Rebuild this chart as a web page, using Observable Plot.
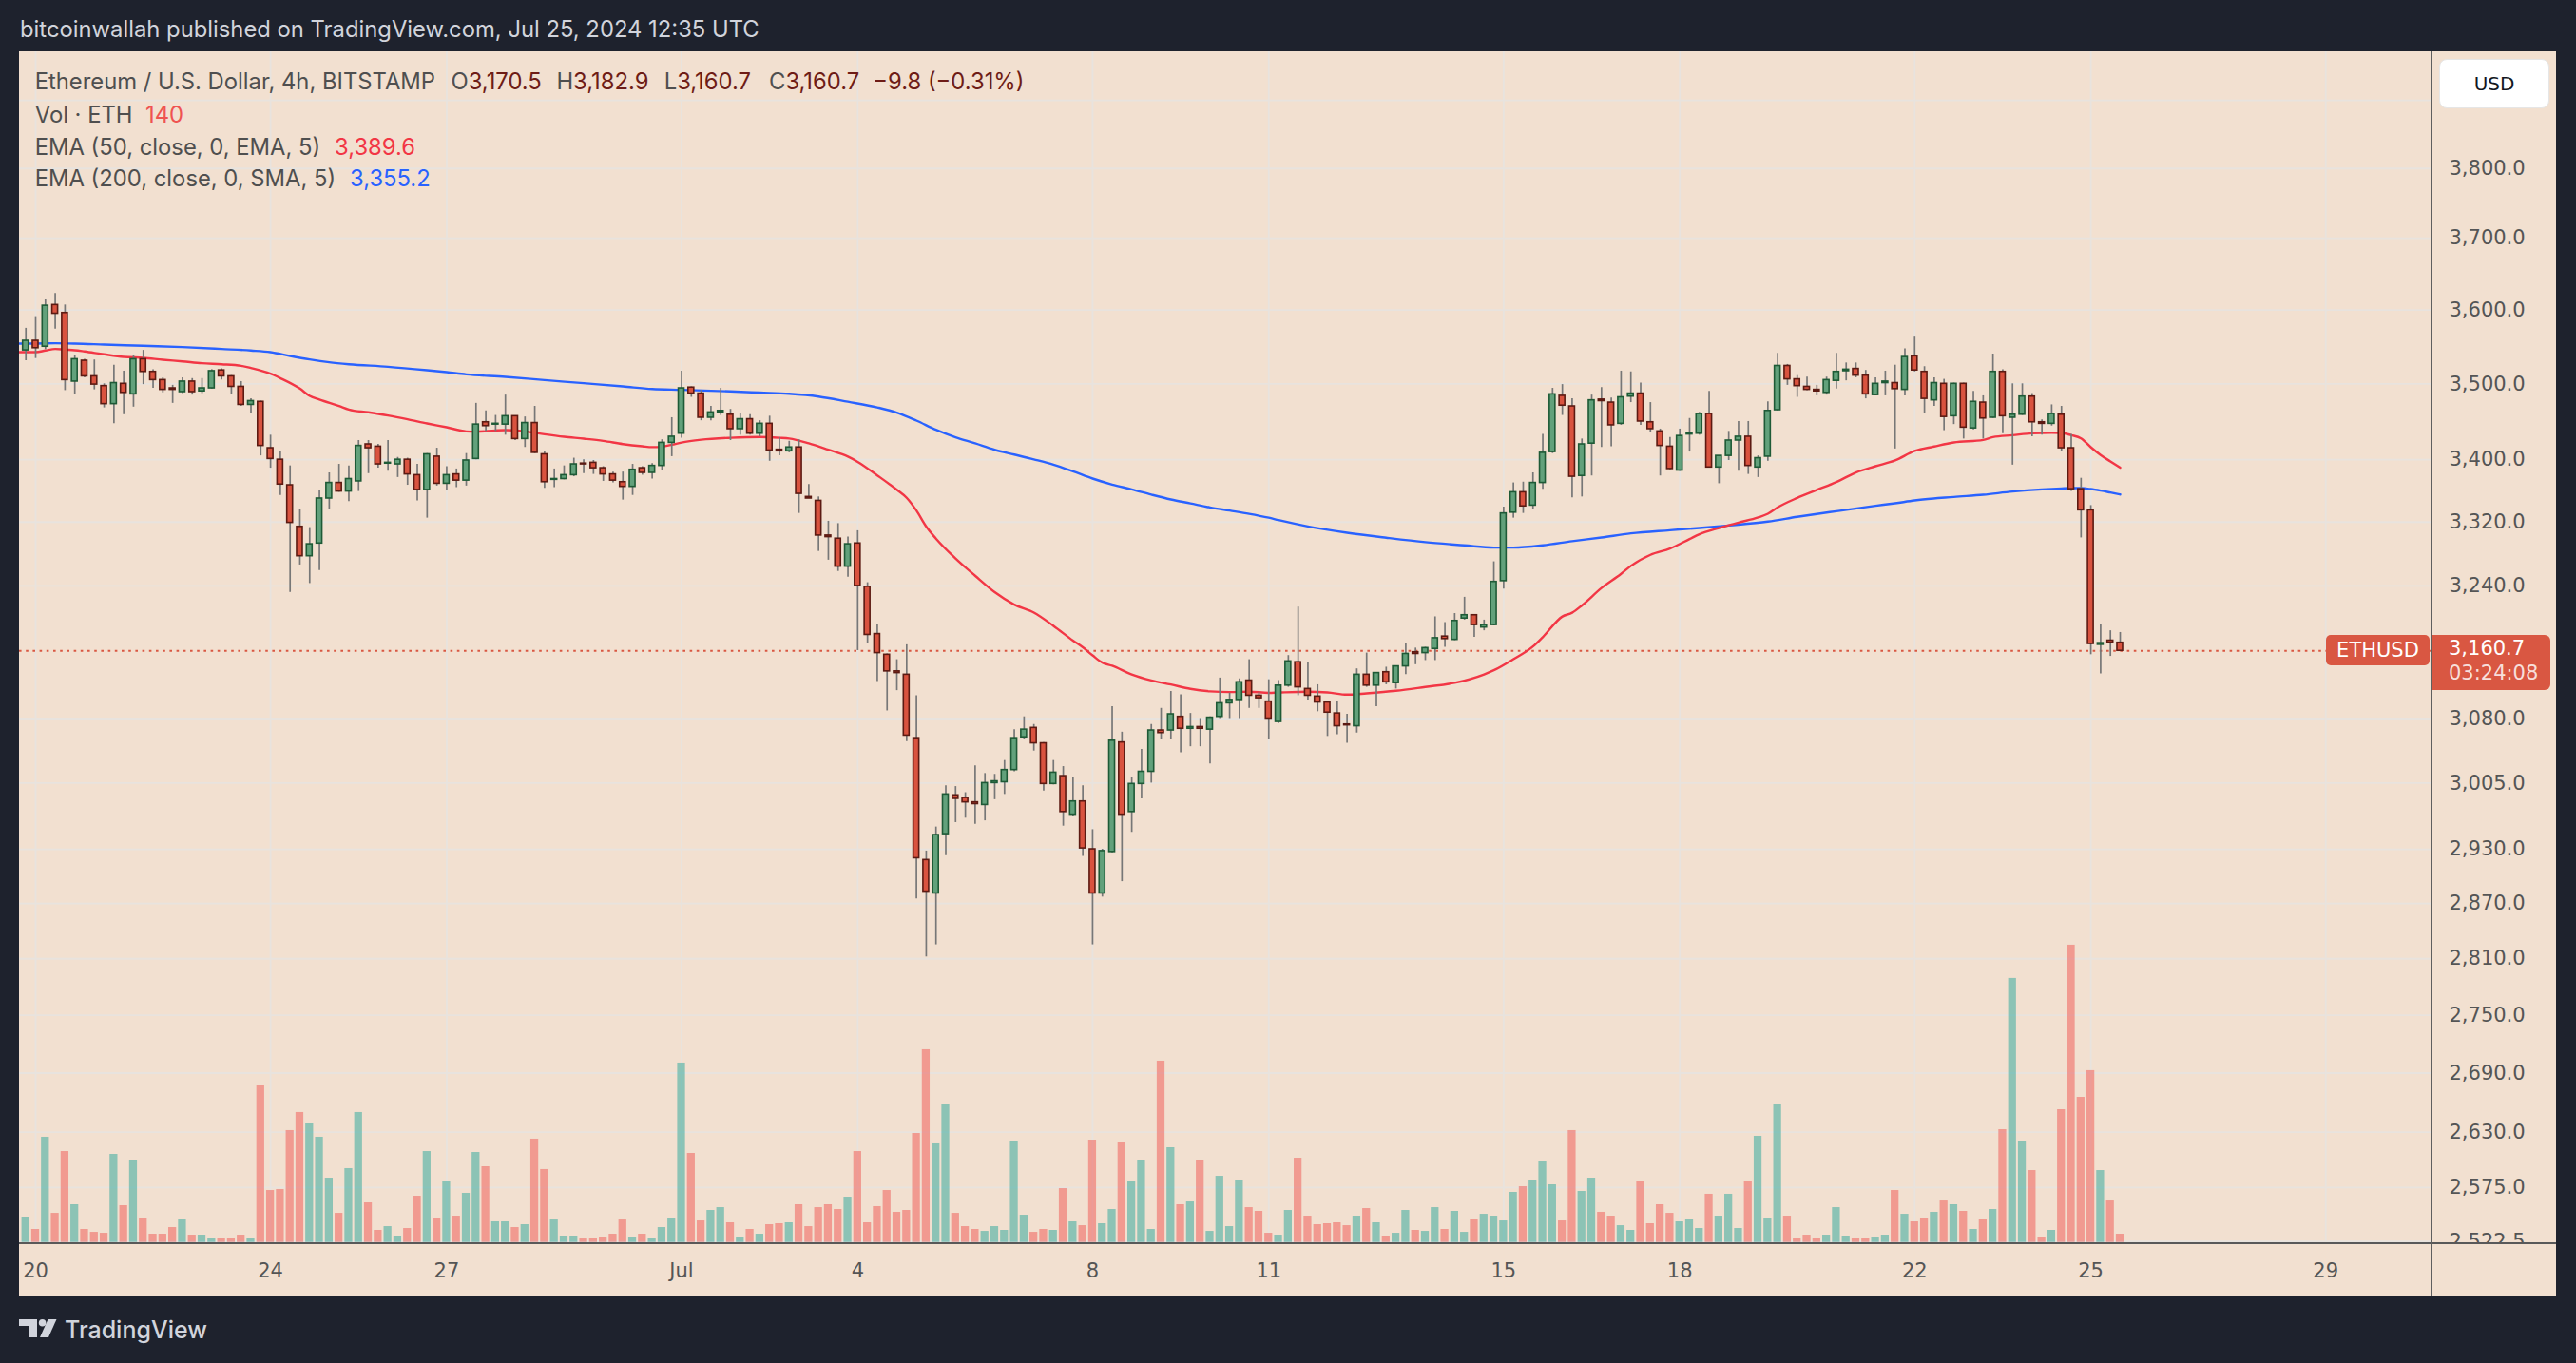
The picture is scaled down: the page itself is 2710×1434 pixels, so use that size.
<!DOCTYPE html>
<html>
<head>
<meta charset="utf-8">
<script src="https://cdn.jsdelivr.net/npm/d3@7"></script>
<script src="https://cdn.jsdelivr.net/npm/@observablehq/plot@0.6"></script>
<style>
  html, body { margin:0; padding:0; width:2710px; height:1434px; background:#1e222d; overflow:hidden; }
  #header { position:absolute; left:21px; top:16px; line-height:30px; font-family:Inter, sans-serif; font-size:23.8px; color:#d1d4dc; white-space:nowrap; }
  #panel { position:absolute; left:20px; top:54px; width:2669px; height:1309px; background:#f2e0d0; overflow:hidden; }
  .layer { position:absolute; left:0; }
  .layer svg { display:block; }
  .leg { position:absolute; font-family:Inter, sans-serif; font-size:23.8px; line-height:30px; white-space:nowrap; color:#4f4f4f; }
  #hsep { position:absolute; left:0; top:1253px; width:2669px; height:2px; background:#595959; }
  #vsep { position:absolute; left:2537px; top:0; width:1.6px; height:1309px; background:#5f5f5f; }
  #usd { position:absolute; left:2546px; top:8px; width:116px; height:52px; background:#ffffff; border-radius:8px; box-sizing:border-box; border:1px solid #e6e6e6;
         font-family:"DejaVu Sans", sans-serif; font-size:20px; color:#131722; text-align:center; line-height:50px; }
  #ethusd { position:absolute; left:2427px; top:614px; width:109px; height:32px; background:#d95742; border-radius:5px;
            font-family:"DejaVu Sans", sans-serif; font-size:21px; color:#fff; text-align:center; line-height:32px; }
  #plabel { position:absolute; left:2538px; top:614px; width:125px; height:58px; background:#d95742; border-radius:0 6px 6px 0; box-sizing:border-box;
            padding:1px 0 0 18px; font-family:"DejaVu Sans", sans-serif; font-size:21px; line-height:26px; color:#fff; }
  #plabel .t2 { color:rgba(255,255,255,0.82); }
  #logo { position:absolute; left:20px; top:1386px; height:28px; }
  #logo svg { position:absolute; left:0; top:2px; }
  #logo span { position:absolute; left:48px; top:-2px; font-family:Inter, sans-serif; font-weight:500; font-size:25px; line-height:30px; color:#d1d4dc; white-space:nowrap; }
</style>
</head>
<body>
<div id="header">bitcoinwallah published on TradingView.com, Jul 25, 2024 12:35 UTC</div>
<div id="panel">
  <div id="price" class="layer" style="top:0"></div>
  <div id="vol" class="layer" style="top:0"></div>
  <div id="xaxis" class="layer" style="top:1255px"></div>
  <div id="hsep"></div>
  <div id="vsep"></div>
  <div id="legend"></div>
  <div id="usd">USD</div>
  <div id="ethusd">ETHUSD</div>
  <div id="plabel"></div>
</div>
<div id="logo">
  <svg width="40" height="20" viewBox="0 0 40 20">
    <rect x="0" y="0" width="19" height="7" fill="#d1d4dc"/>
    <rect x="10.5" y="0" width="8.5" height="19" fill="#d1d4dc"/>
    <circle cx="24.6" cy="3.8" r="3.8" fill="#d1d4dc"/>
    <polygon points="30.5,0 39.5,0 31,19 22,19" fill="#d1d4dc"/>
  </svg>
  <span>TradingView</span>
</div>
<script>
// ---------- data: 4h ETH/USD candles from Jun 19 20:00 UTC to Jul 25 12:00 UTC ----------
const open = [
3545,3558,3550,3607,3596,3503,3531,3510,3497,3473,
3500,3486,3533,3516,3505,3494,3489,3503,3490,3494,
3518,3510,3496,3472,3476,3415,3400,3367,3314,3277,
3293,3350,3370,3359,3372,3420,3417,3395,3394,3400,
3380,3361,3404,3369,3381,3373,3401,3449,3446,3446,
3457,3427,3448,3407,3374,3375,3380,3395,3396,3389,
3381,3371,3365,3389,3383,3392,3422,3434,3495,3487,
3455,3462,3459,3440,3453,3434,3447,3413,3411,3416,
3352,3347,3303,3299,3264,3293,3239,3181,3156,3136,
3132,3057,2918,2881,2947,2991,2988,2983,2980,3005,
3006,3020,3058,3069,3051,3004,3013,2969,2984,2930,
2881,2927,3052,2972,3004,3018,3066,3066,3082,3068,
3070,3067,3082,3098,3102,3125,3107,3100,3076,3119,
3147,3115,3106,3099,3086,3073,3071,3132,3119,3135,
3122,3142,3159,3158,3163,3178,3174,3200,3204,3189,
3192,3246,3332,3358,3341,3370,3410,3484,3470,3379,
3421,3479,3475,3447,3483,3487,3449,3437,3417,3386,
3433,3434,3460,3390,3405,3425,3430,3390,3404,3465,
3524,3506,3496,3492,3488,3504,3517,3520,3511,3485,
3501,3501,3492,3537,3516,3478,3500,3457,3500,3441,
3475,3455,3516,3455,3459,3483,3449,3447,3459,3415,
3362,3335,3168,3173,3170.5];
const high = [
3575,3591,3614,3623,3607,3538,3533,3532,3500,3525,
3517,3538,3545,3519,3508,3498,3508,3507,3507,3519,
3520,3511,3503,3480,3477,3432,3411,3392,3336,3313,
3361,3383,3394,3392,3425,3425,3420,3425,3403,3402,
3394,3408,3415,3391,3388,3408,3474,3464,3458,3485,
3457,3456,3470,3410,3388,3392,3402,3400,3399,3391,
3384,3384,3394,3391,3395,3426,3455,3517,3496,3491,
3470,3494,3466,3461,3459,3451,3457,3429,3424,3426,
3368,3352,3321,3318,3301,3309,3244,3193,3157,3150,
3168,3107,2928,2955,3002,3001,2994,3025,3016,3015,
3031,3067,3082,3073,3052,3031,3024,3012,3002,2952,
2930,3094,3064,3011,3044,3073,3092,3112,3108,3086,
3080,3082,3128,3110,3127,3150,3111,3126,3125,3155,
3214,3147,3120,3100,3100,3085,3139,3158,3134,3141,
3142,3170,3164,3165,3202,3195,3206,3226,3204,3198,
3270,3339,3370,3371,3383,3433,3494,3499,3480,3427,
3485,3495,3481,3517,3516,3501,3475,3440,3429,3440,
3454,3462,3490,3405,3437,3450,3450,3405,3476,3541,
3526,3511,3509,3498,3509,3541,3528,3528,3518,3508,
3517,3525,3547,3563,3523,3508,3506,3501,3501,3490,
3484,3540,3519,3500,3500,3487,3452,3472,3470,3433,
3376,3341,3193,3185,3182.9];
const low = [
3531,3534,3546,3574,3491,3486,3508,3492,3468,3447,
3459,3469,3499,3494,3488,3474,3487,3485,3487,3493,
3505,3486,3470,3460,3405,3389,3354,3232,3266,3243,
3259,3336,3358,3346,3359,3382,3389,3385,3377,3367,
3347,3325,3366,3360,3364,3366,3400,3437,3437,3432,
3425,3416,3408,3363,3364,3374,3378,3382,3381,3372,
3370,3348,3354,3380,3375,3386,3404,3428,3482,3451,
3451,3458,3425,3432,3432,3430,3398,3405,3409,3331,
3350,3283,3272,3258,3251,3161,3170,3124,3089,3113,
3053,2875,2812,2825,2923,2960,2965,2958,2962,2986,
2992,3018,3056,3042,2996,3003,2956,2967,2922,2825,
2877,2926,2894,2949,2987,3005,3056,3056,3040,3047,
3047,3027,3080,3080,3080,3092,3092,3056,3074,3117,
3107,3102,3088,3059,3061,3051,3063,3117,3094,3120,
3115,3132,3144,3149,3149,3165,3173,3198,3177,3185,
3191,3236,3325,3331,3336,3362,3408,3458,3351,3352,
3379,3416,3417,3445,3475,3445,3435,3379,3387,3385,
3410,3432,3389,3369,3399,3385,3381,3377,3398,3464,
3498,3482,3491,3484,3485,3493,3504,3508,3480,3484,
3484,3414,3484,3516,3460,3470,3438,3446,3427,3439,
3427,3454,3434,3393,3458,3430,3432,3444,3411,3359,
3300,3156,3133,3154,3160.7];
const close = [
3558,3548,3606,3595,3505,3533,3510,3499,3473,3501,
3488,3533,3516,3505,3492,3492,3503,3489,3494,3517,
3510,3496,3472,3477,3418,3401,3368,3319,3277,3292,
3350,3370,3359,3375,3418,3415,3394,3396,3400,3381,
3361,3407,3369,3380,3373,3399,3446,3444,3447,3457,
3427,3448,3409,3371,3375,3380,3394,3394,3389,3381,
3373,3365,3387,3383,3392,3422,3430,3494,3487,3455,
3462,3464,3440,3453,3434,3447,3412,3411,3416,3356,
3350,3303,3301,3264,3292,3240,3180,3158,3136,3134,
3060,2920,2883,2946,2992,2987,2983,2981,3005,3007,
3020,3057,3067,3051,3004,3017,2972,2984,2931,2881,
2928,3054,2969,3004,3018,3066,3063,3085,3068,3070,
3068,3081,3098,3102,3123,3107,3104,3080,3119,3148,
3117,3107,3099,3087,3071,3072,3132,3119,3134,3123,
3142,3157,3157,3164,3176,3175,3197,3204,3192,3192,
3245,3331,3358,3340,3370,3409,3486,3471,3378,3420,
3478,3477,3445,3482,3487,3450,3440,3418,3388,3431,
3435,3460,3390,3405,3425,3430,3392,3402,3464,3524,
3506,3497,3492,3490,3505,3516,3519,3511,3486,3500,
3503,3493,3536,3518,3480,3501,3456,3500,3442,3476,
3454,3516,3457,3459,3483,3449,3447,3460,3415,3362,
3335,3169,3170,3170.5,3160.7];
// volume in ETH per 4h candle
const volume = [
431,221,1788,495,1545,641,221,172,156,1497,
625,1400,415,140,140,253,398,124,124,75,
75,75,124,75,2660,883,899,1901,2208,2030,
1788,1093,495,1255,2208,673,205,269,108,237,
786,1545,415,1029,447,835,1529,1287,350,350,
253,302,1756,1239,382,108,108,59,75,92,
140,382,92,140,75,253,415,3048,1513,366,
544,592,334,92,221,140,302,318,334,641,
269,592,641,560,770,1545,334,609,883,512,
544,1852,3274,1675,2353,495,269,221,188,269,
205,1723,463,172,221,205,915,350,285,1739,
318,560,1691,1029,1400,221,3080,1610,641,689,
1400,188,1125,269,1061,592,528,156,124,544,
1432,447,302,318,334,285,447,576,334,108,
156,544,205,188,592,221,528,172,398,479,
447,366,851,948,1061,1384,980,366,1901,867,
1093,512,447,285,205,1029,318,641,495,350,
398,237,819,447,819,237,1045,1804,415,2337,
447,75,124,75,124,592,108,75,75,92,
124,883,479,350,415,512,705,641,528,221,
398,560,1917,4486,1723,1222,92,205,2256,5051,
2466,2919,1222,705,140];
// EMA 50 (red): [candle index, value]
const ema50 = [[-1,3542.6],[0,3542.6],[1,3542.6],[2,3544.8],[3,3546.9],[4,3546.0],[5,3545.2],[6,3543.5],[8,3539.6],[10,3536.2],[12,3534.9],[14,3532.3],[16,3530.1],[18,3527.6],[20,3526.3],[22,3524.2],[23,3521.2],[25,3513.5],[26,3507.6],[28,3493.6],[29,3483.9],[30,3478.9],[32,3470.5],[33,3465.9],[35,3462.1],[37,3457.9],[39,3452.9],[41,3447.4],[43,3442.4],[45,3437.0],[46,3436.6],[48,3438.2],[49,3438.6],[51,3437.0],[53,3433.2],[55,3429.9],[57,3427.4],[59,3424.5],[61,3420.4],[63,3417.5],[64,3416.4],[65,3417.1],[66,3419.5],[67,3422.4],[69,3426.0],[72,3428.6],[75,3429.7],[77,3428.6],[78,3427.6],[80,3421.3],[82,3412.9],[84,3404.0],[85,3397.2],[87,3379.7],[89,3361.2],[90,3350.9],[91,3334.6],[92,3314.3],[93,3299.1],[95,3274.1],[97,3252.6],[99,3232.3],[101,3217.0],[103,3207.2],[105,3191.0],[107,3173.1],[108,3164.9],[109,3155.2],[110,3146.5],[111,3142.7],[113,3132.2],[115,3125.1],[117,3120.3],[119,3115.1],[121,3112.2],[123,3111.3],[125,3111.8],[127,3110.4],[128,3110.8],[131,3111.7],[133,3110.9],[135,3108.3],[137,3109.8],[140,3112.8],[143,3117.4],[146,3122.3],[149,3132.4],[150,3137.3],[152,3150.6],[154,3165.9],[155,3177.3],[157,3202.4],[158,3207.1],[159,3216.0],[161,3237.4],[163,3255.0],[164,3264.9],[166,3278.7],[168,3286.6],[170,3298.5],[171,3304.5],[173,3312.5],[175,3319.3],[177,3325.8],[178,3330.6],[179,3338.7],[181,3350.8],[183,3361.0],[185,3371.2],[187,3383.5],[189,3391.6],[191,3399.0],[193,3411.4],[195,3417.2],[197,3422.5],[200,3425.8],[201,3429.5],[203,3432.0],[205,3434.5],[207,3435.3],[208,3434.9],[209,3432.0],[210,3427.9],[211,3416.3],[212,3406.1],[213,3397.8],[214,3389.6]];
// EMA 200 (blue)
const ema200 = [[-1,3554.2],[1,3554.2],[3,3554.6],[5,3554.2],[8,3552.9],[12,3551.2],[16,3549.5],[20,3546.9],[23,3544.8],[25,3542.6],[27,3537.4],[29,3532.7],[31,3528.9],[33,3526.3],[37,3522.9],[41,3518.2],[43,3515.6],[45,3512.7],[49,3509.3],[53,3505.0],[57,3500.8],[61,3496.6],[64,3493.1],[67,3492.0],[72,3489.9],[75,3488.3],[78,3486.7],[81,3483.0],[84,3476.1],[87,3468.7],[89,3461.8],[91,3451.2],[93,3439.1],[95,3429.2],[97,3421.3],[99,3412.9],[101,3406.7],[103,3400.4],[105,3393.6],[107,3384.9],[109,3375.6],[111,3367.9],[113,3361.7],[115,3355.0],[117,3348.8],[119,3343.7],[121,3338.6],[123,3334.6],[125,3330.5],[127,3325.5],[128,3322.5],[131,3314.5],[135,3306.5],[139,3300.2],[143,3294.6],[147,3290.6],[150,3287.8],[152,3287.8],[155,3290.6],[158,3295.8],[161,3300.5],[164,3305.7],[168,3309.7],[171,3312.5],[174,3315.7],[178,3320.6],[181,3326.6],[185,3333.8],[189,3340.7],[191,3343.9],[193,3347.5],[197,3352.0],[200,3354.8],[203,3358.9],[206,3361.7],[208,3362.9],[209,3363.3],[210,3363.3],[211,3362.1],[212,3360.1],[213,3357.7],[214,3355.2]];
// axis ticks (3,900 grid line sits under the USD button, so it has no visible label)
const yGrid = [3900,3800,3700,3600,3500,3400,3320,3240,3080,3005,2930,2870,2810,2750,2690,2630,2575,2522.5];
const yLabels = [3800,3700,3600,3500,3400,3320,3240,3080,3005,2930,2870,2810,2750,2690,2630,2575,2522.5];
const xTickDays = ["2024-06-20","2024-06-24","2024-06-27","2024-07-01","2024-07-04","2024-07-08","2024-07-11","2024-07-15","2024-07-18","2024-07-22","2024-07-25","2024-07-29"];
const xTickLabels = ["20","24","27","Jul","4","8","11","15","18","22","25","29"];

// ---------- build ----------
const start = Date.UTC(2024, 5, 19, 20);
const step = 4 * 3600 * 1000;
const T = i => new Date(start + i * step);
const MIN = 60000;
const candles = open.map((o, i) => ({t: T(i), o, h: high[i], l: low[i], c: close[i], v: volume[i], up: close[i] >= o}));
const e50 = ema50.map(([k, v]) => ({t: T(k), v}));
const e200 = ema200.map(([k, v]) => ({t: T(k), v}));
const xDates = xTickDays.map(s => new Date(s + "T00:00:00Z"));
const last = candles[candles.length - 1];
const prev = candles[candles.length - 2];

const xCfg = {type: "utc", domain: [new Date(Date.UTC(2024,5,20)), new Date(Date.UTC(2024,6,29))], range: [17.0, 2426.2], axis: null};
const gridColor = "#e8e3de";

const pricePlot = Plot.plot({
  width: 2669, height: 1254,
  marginLeft: 0, marginRight: 131, marginTop: 0, marginBottom: 0,
  style: {background: "transparent", fontFamily: "DejaVu Sans", fontSize: "21px", color: "#555555", overflow: "hidden"},
  x: xCfg,
  y: {type: "log", domain: [2522.5, 3900], range: [1251.6, 51.18]},
  marks: [
    Plot.gridY(yGrid, {stroke: gridColor, strokeOpacity: 1, strokeWidth: 1.8}),
    Plot.gridX(xDates, {stroke: gridColor, strokeOpacity: 1, strokeWidth: 1.8}),
    Plot.axisY(yLabels, {anchor: "right", tickSize: 0, tickPadding: 18, tickFormat: d3.format(",.1f"), label: null, fontSize: 21}),
    Plot.ruleY([last.c], {stroke: "#d95742", strokeWidth: 2, strokeDasharray: "2.6,4.6"}),
    Plot.line(e200, {x: "t", y: "v", stroke: "#2962ff", strokeWidth: 2.4, curve: "monotone-x", clip: true}),
    Plot.line(e50, {x: "t", y: "v", stroke: "#f23645", strokeWidth: 2.4, curve: "monotone-x", clip: true}),
    Plot.ruleX(candles, {x: "t", y1: "l", y2: "h", stroke: "#777777", strokeWidth: 1.7}),
    Plot.rect(candles, {
      x1: d => new Date(+d.t - 70 * MIN), x2: d => new Date(+d.t + 70 * MIN),
      y1: d => Math.min(d.o, d.c), y2: d => Math.max(d.o, d.c),
      fill: d => d.up ? "#62a17b" : "#d9533f",
      stroke: d => d.up ? "#1e5a36" : "#5c1a12",
      strokeWidth: 1.6
    })
  ]
});
document.getElementById("price").appendChild(pricePlot);

const volPlot = Plot.plot({
  width: 2669, height: 1254, margin: 0,
  style: {background: "transparent", overflow: "hidden"},
  x: xCfg,
  y: {domain: [0, 5000], range: [1252.7, 943.1], axis: null},
  marks: [
    Plot.rect(candles, {
      x1: d => new Date(+d.t - 96 * MIN), x2: d => new Date(+d.t + 96 * MIN),
      y1: 0, y2: "v",
      fill: d => d.up ? "rgba(38,166,154,0.5)" : "rgba(239,83,80,0.5)"
    })
  ]
});
document.getElementById("vol").appendChild(volPlot);

const xPlot = Plot.plot({
  width: 2669, height: 54, margin: 0,
  style: {background: "transparent", fontFamily: "DejaVu Sans", fontSize: "21px", overflow: "hidden"},
  x: xCfg,
  marks: [
    Plot.text(xDates, {x: d => d, text: (d, i) => xTickLabels[i], frameAnchor: "middle", dy: 1, fill: "#555555", fontSize: 21})
  ]
});
document.getElementById("xaxis").appendChild(xPlot);

// ---------- legend ----------
const f1 = d3.format(",.1f");
const sgn = s => s.replace(/-/g, "\u2212");
const chg = last.c - prev.c;
const maroon = "#6e1c16";
const rows = [
  {top: 17, items: [
    [16.7, [["Ethereum / U.S. Dollar, 4h, BITSTAMP", null]]],
    [454.5, [["O", null], [f1(last.o), maroon]]],
    [565.4, [["H", null], [f1(last.h), maroon]]],
    [678.7, [["L", null], [f1(last.l), maroon]]],
    [789, [["C", null], [f1(last.c), maroon]]],
    [898.3, [[sgn(f1(chg)) + " (" + sgn(d3.format(".2f")(chg / prev.c * 100)) + "%)", maroon]]]
  ]},
  {top: 51.7, items: [[16.7, [["Vol \u00b7 ETH", null]]], [133, [[String(last.v), "#ef5350"]]]]},
  {top: 86, items: [[16.7, [["EMA (50, close, 0, EMA, 5)", null]]], [332, [[f1(ema50[ema50.length - 1][1]), "#f23645"]]]]},
  {top: 119, items: [[16.7, [["EMA (200, close, 0, SMA, 5)", null]]], [348, [[f1(ema200[ema200.length - 1][1]), "#2962ff"]]]]}
];
const legend = document.getElementById("legend");
for (const r of rows) {
  for (const [left, parts] of r.items) {
    const d = document.createElement("div");
    d.className = "leg";
    d.style.left = left + "px";
    d.style.top = r.top + "px";
    for (const [txt, col] of parts) {
      const s = document.createElement("span");
      s.textContent = txt;
      if (col) s.style.color = col;
      d.appendChild(s);
    }
    legend.appendChild(d);
  }
}
document.getElementById("plabel").innerHTML = '<div>' + f1(last.c) + '</div><div class="t2">03:24:08</div>';
</script>
</body>
</html>
